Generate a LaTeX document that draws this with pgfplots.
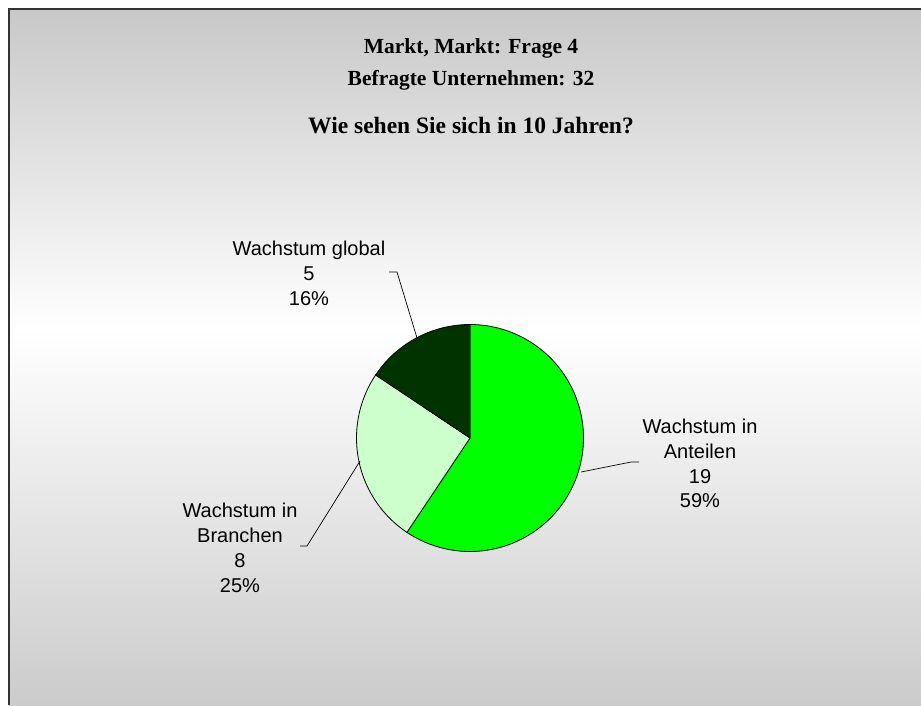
\documentclass[border=0pt]{standalone}
\usepackage{pgfplots}
\pgfplotsset{compat=1.18}
\usepackage{pgfplotstable}
\usepackage{fontspec}
\setmainfont{Liberation Sans}
\newfontfamily\titlefont{Liberation Serif}
\definecolor{cA}{HTML}{00FF00}
\definecolor{cB}{HTML}{CCFFCC}
\definecolor{cC}{HTML}{003300}
\definecolor{bgtop}{HTML}{C8C8C8}
\definecolor{bgbot}{HTML}{CBCBCB}
\definecolor{frame}{HTML}{333333}

\pgfplotstableread{
name value
Anteilen 19
Branchen 8
Global 5
}\piedata

\begin{document}%
\begin{tikzpicture}
\pgfplotstablegetelem{0}{value}\of\piedata \let\vA\pgfplotsretval
\pgfplotstablegetelem{1}{value}\of\piedata \let\vB\pgfplotsretval
\pgfplotstablegetelem{2}{value}\of\piedata \let\vC\pgfplotsretval
\pgfmathsetmacro{\tot}{\vA+\vB+\vC}
\pgfmathsetmacro{\aA}{90-360*\vA/\tot}
\pgfmathsetmacro{\aB}{\aA-360*\vB/\tot}
\pgfmathsetmacro{\aC}{\aB-360*\vC/\tot}
\begin{axis}[
  width=921pt, height=705pt, scale only axis,
  xmin=0, xmax=921, ymin=0, ymax=705, y dir=reverse,
  hide axis, clip=false]
% background
\fill[white] (axis cs:0,0) rectangle (axis cs:921,705);
\shade[top color=bgtop, bottom color=white] (axis cs:9,9) rectangle (axis cs:921,330);
\shade[top color=white, bottom color=bgbot] (axis cs:9,330) rectangle (axis cs:921,705);
\draw[frame, line width=1.3pt] (axis cs:9,705) -- (axis cs:9,9) -- (axis cs:921,9);
% titles
\node[anchor=base, font=\titlefont\bfseries\fontsize{21.5}{26}\selectfont] at (axis cs:471,53) {Markt, Markt: Frage 4};
\node[anchor=base, font=\titlefont\bfseries\fontsize{21.5}{26}\selectfont] at (axis cs:471,85) {Befragte Unternehmen: 32};
\node[anchor=base, font=\titlefont\bfseries\fontsize{23.5}{28}\selectfont] at (axis cs:471,133) {Wie sehen Sie sich in 10 Jahren?};
% pie slices
\addplot[fill=cA, draw=black, line width=0.8pt, no marks, domain=\aA:90, samples=120, variable=\t]
  ({470+113.5*cos(\t)},{438-113.5*sin(\t)}) -- (axis cs:470,438) -- cycle;
\addplot[fill=cB, draw=black, line width=0.8pt, no marks, domain=\aB:\aA, samples=80, variable=\t]
  ({470+113.5*cos(\t)},{438-113.5*sin(\t)}) -- (axis cs:470,438) -- cycle;
\addplot[fill=cC, draw=black, line width=0.8pt, no marks, domain=\aC:\aB, samples=60, variable=\t]
  ({470+113.5*cos(\t)},{438-113.5*sin(\t)}) -- (axis cs:470,438) -- cycle;
% leader lines
\draw[black, line width=0.7pt] (axis cs:417,338) -- (axis cs:397,272) -- (axis cs:389,272);
\draw[black, line width=0.7pt] (axis cs:581,472) -- (axis cs:631,462) -- (axis cs:639,462);
\draw[black, line width=0.7pt] (axis cs:360,461) -- (axis cs:307,546) -- (axis cs:300,546);
% labels
\tikzset{lab/.style={anchor=base, font=\fontsize{20}{24}\selectfont, inner sep=0pt}}
\node[lab] at (axis cs:309,255) {Wachstum global};
\node[lab] at (axis cs:309,280) {5};
\node[lab] at (axis cs:309,305) {16\%};
\node[lab] at (axis cs:700,433) {Wachstum in};
\node[lab] at (axis cs:700,458) {Anteilen};
\node[lab] at (axis cs:700,483) {19};
\node[lab] at (axis cs:700,507) {59\%};
\node[lab] at (axis cs:240,517) {Wachstum in};
\node[lab] at (axis cs:240,542) {Branchen};
\node[lab] at (axis cs:240,567) {8};
\node[lab] at (axis cs:240,592) {25\%};
\end{axis}
\pgfresetboundingbox
\path[use as bounding box] (current axis.south west) rectangle (current axis.north east);
\end{tikzpicture}%
\end{document}
